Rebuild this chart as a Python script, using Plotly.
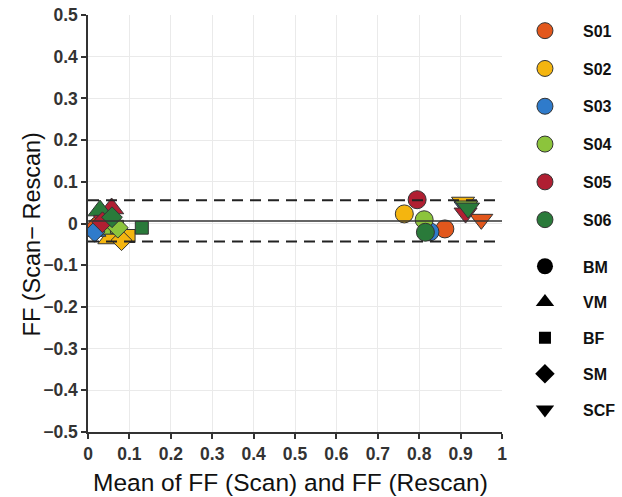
import plotly.graph_objects as go

# ---- data ----
subjects = ["S01", "S02", "S03", "S04", "S05", "S06"]
subject_colors = ["#E2571C", "#F4B50F", "#2F7BCB", "#8CC43C", "#B01F32", "#2A7A3A"]

techniques = ["BM", "VM", "BF", "SM", "SCF"]
technique_symbols = ["circle", "triangle-up", "square", "diamond", "triangle-down"]

bm_x = [0.862, 0.764, 0.826, 0.812, 0.795, 0.815]
bm_y = [-0.013, 0.023, -0.020, 0.009, 0.057, -0.021]

vm_x = [0.012, 0.053, 0.014, 0.037, 0.057, 0.029]
vm_y = [-0.012, -0.036, -0.018, -0.013, 0.036, 0.031]

bf_x = [0.020, 0.098, 0.018, 0.070, 0.030, 0.130]
bf_y = [-0.008, -0.030, -0.015, -0.008, 0.004, -0.010]

sm_x = [0.015, 0.081, 0.016, 0.072, 0.035, 0.058]
sm_y = [-0.010, -0.040, -0.020, -0.010, 0.003, 0.015]

scf_x = [0.950, 0.906, 0.912, 0.914, 0.912, 0.918]
scf_y = [0.010, 0.051, 0.040, 0.042, 0.025, 0.037]

mean_diff = 0.006
upper_loa = 0.056
lower_loa = -0.043

x_tickvals = [0, 0.1, 0.2, 0.3, 0.4, 0.5, 0.6, 0.7, 0.8, 0.9, 1]
x_ticktext = ["0", "0.1", "0.2", "0.3", "0.4", "0.5", "0.6", "0.7", "0.8", "0.9", "1"]
y_tickvals = [0.5, 0.4, 0.3, 0.2, 0.1, 0, -0.1, -0.2, -0.3, -0.4, -0.5]
y_ticktext = ["0.5", "0.4", "0.3", "0.2", "0.1", "0", "\u22120.1", "\u22120.2",
              "\u22120.3", "\u22120.4", "\u22120.5"]

x_title = "Mean of FF (Scan) and FF (Rescan)"
y_title = "FF (Scan\u2212 Rescan)"

tech_x = [bm_x, vm_x, bf_x, sm_x, scf_x]
tech_y = [bm_y, vm_y, bf_y, sm_y, scf_y]
tech_sizes = [18, 21, 13, 16, 20]
legend_sizes = [17, 19, 12, 15, 19]

FONT = "Liberation Sans, Arial, sans-serif"

fig = go.Figure()

# data markers
for t, sym, xs, ys, sz in zip(techniques, technique_symbols, tech_x, tech_y, tech_sizes):
    for s, col, xv, yv in zip(subjects, subject_colors, xs, ys):
        fig.add_trace(go.Scatter(
            x=[xv], y=[yv], mode="markers", showlegend=False,
            name=f"{s} {t}",
            marker=dict(symbol=sym, size=sz, color=col,
                        line=dict(color="#333333", width=1)),
        ))

# mean and limits of agreement (drawn above markers)
fig.add_trace(go.Scatter(x=[0, 1], y=[mean_diff, mean_diff], mode="lines",
                         line=dict(color="#333333", width=1.5), showlegend=False))
for v in (upper_loa, lower_loa):
    fig.add_trace(go.Scatter(x=[0, 1], y=[v, v], mode="lines",
                             line=dict(color="#222222", width=2, dash="11px,7px"),
                             showlegend=False))

# legend 1: subjects
for s, col in zip(subjects, subject_colors):
    fig.add_trace(go.Scatter(
        x=[None], y=[None], mode="markers", name=s, legend="legend",
        legendgroup=s,
        marker=dict(symbol="circle", size=17, color=col,
                    line=dict(color="#333333", width=1)),
    ))

# legend 2: techniques
for t, sym, sz in zip(techniques, technique_symbols, legend_sizes):
    fig.add_trace(go.Scatter(
        x=[None], y=[None], mode="markers", name=t, legend="legend2",
        legendgroup=t,
        marker=dict(symbol=sym, size=sz, color="black",
                    line=dict(color="black", width=0)),
    ))

legend_font = dict(family=FONT, size=16, color="#111111", weight="bold")

fig.update_layout(
    width=622, height=497,
    margin=dict(l=88, r=120, t=15, b=65, autoexpand=False),
    plot_bgcolor="white", paper_bgcolor="white",
    font=dict(family=FONT, color="#222222"),
    legend=dict(x=1.012, y=1.003, xanchor="left", yanchor="top",
                font=legend_font, tracegroupgap=14, itemsizing="trace",
                itemwidth=66, bgcolor="rgba(0,0,0,0)"),
    legend2=dict(x=1.012, y=0.438, xanchor="left", yanchor="top",
                 font=legend_font, tracegroupgap=12, itemsizing="trace",
                 itemwidth=66, bgcolor="rgba(0,0,0,0)"),
    xaxis=dict(
        range=[0, 1], tickvals=x_tickvals, ticktext=x_ticktext,
        showgrid=True, gridcolor="#eaeaea", gridwidth=1,
        showline=True, linecolor="#333333", linewidth=1.5,
        ticks="outside", ticklen=5, tickcolor="#333333", tickwidth=1.5,
        tickfont=dict(family=FONT, size=17.5, color="#333333", weight="bold"),
        zeroline=False, automargin=False,
    ),
    yaxis=dict(
        range=[-0.5, 0.5], tickvals=y_tickvals, ticktext=y_ticktext,
        showgrid=True, gridcolor="#eaeaea", gridwidth=1,
        showline=True, linecolor="#333333", linewidth=1.5,
        ticks="outside", ticklen=5, tickcolor="#333333", tickwidth=1.5,
        tickfont=dict(family=FONT, size=17.5, color="#333333", weight="bold"),
        zeroline=False, automargin=False,
    ),
    annotations=[
        dict(text=x_title, xref="paper", yref="paper", x=0.49, y=-0.12,
             xanchor="center", yanchor="middle", showarrow=False,
             font=dict(family=FONT, size=24.5, color="#111111")),
        dict(text=y_title, xref="paper", yref="paper", x=-0.135, y=0.474,
             xanchor="center", yanchor="middle", showarrow=False, textangle=-90,
             font=dict(family=FONT, size=23.5, color="#111111")),
    ],
)

fig.write_html(
    "out.html",
    config={"displayModeBar": False},
    post_script="document.body.style.margin='0';document.documentElement.style.margin='0';",
)
